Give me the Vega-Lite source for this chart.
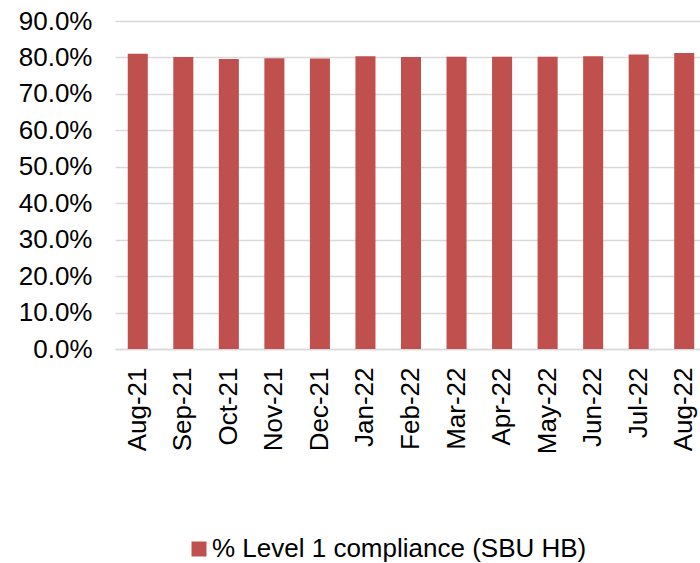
{
  "$schema": "https://vega.github.io/schema/vega-lite/v6.json",
  "autosize": {"type": "none"},
  "padding": {"left": 115, "top": 21, "right": 0, "bottom": 214},
  "width": 592,
  "height": 328,
  "background": "white",
  "config": {
    "view": {"stroke": null},
    "font": "Liberation Sans"
  },
  "data": {
    "values": [
      {"month": "Aug-21", "value": 0.810, "series": "% Level 1 compliance (SBU HB)"},
      {"month": "Sep-21", "value": 0.801, "series": "% Level 1 compliance (SBU HB)"},
      {"month": "Oct-21", "value": 0.796, "series": "% Level 1 compliance (SBU HB)"},
      {"month": "Nov-21", "value": 0.798, "series": "% Level 1 compliance (SBU HB)"},
      {"month": "Dec-21", "value": 0.797, "series": "% Level 1 compliance (SBU HB)"},
      {"month": "Jan-22", "value": 0.803, "series": "% Level 1 compliance (SBU HB)"},
      {"month": "Feb-22", "value": 0.801, "series": "% Level 1 compliance (SBU HB)"},
      {"month": "Mar-22", "value": 0.802, "series": "% Level 1 compliance (SBU HB)"},
      {"month": "Apr-22", "value": 0.802, "series": "% Level 1 compliance (SBU HB)"},
      {"month": "May-22", "value": 0.802, "series": "% Level 1 compliance (SBU HB)"},
      {"month": "Jun-22", "value": 0.803, "series": "% Level 1 compliance (SBU HB)"},
      {"month": "Jul-22", "value": 0.808, "series": "% Level 1 compliance (SBU HB)"},
      {"month": "Aug-22", "value": 0.812, "series": "% Level 1 compliance (SBU HB)"}
    ]
  },
  "mark": {"type": "bar"},
  "encoding": {
    "x": {
      "field": "month",
      "type": "ordinal",
      "sort": null,
      "scale": {"paddingInner": 0.56, "paddingOuter": 0.28},
      "axis": {
        "title": null,
        "labelAngle": -90,
        "labelFontSize": 26,
        "labelColor": "#000000",
        "labelPadding": 18,
        "ticks": false,
        "domainColor": "#d9d9d9",
        "domainWidth": 1.5,
        "grid": false
      }
    },
    "y": {
      "field": "value",
      "type": "quantitative",
      "scale": {"domain": [0, 0.9], "nice": false},
      "axis": {
        "title": null,
        "format": ".1%",
        "values": [0, 0.1, 0.2, 0.3, 0.4, 0.5, 0.6, 0.7, 0.8, 0.9],
        "labelFontSize": 26,
        "labelColor": "#000000",
        "labelPadding": 23,
        "ticks": false,
        "domain": false,
        "grid": true,
        "gridColor": "#d9d9d9",
        "gridWidth": 1.5
      }
    },
    "color": {
      "field": "series",
      "type": "nominal",
      "scale": {"range": ["#C0504D"]},
      "legend": {
        "title": null,
        "orient": "none",
        "legendX": 71,
        "legendY": 515,
        "symbolType": "square",
        "symbolSize": 225,
        "symbolStrokeWidth": 0,
        "labelFontSize": 26,
        "labelColor": "#000000",
        "labelOffset": 0,
        "labelLimit": 600
      }
    }
  }
}
